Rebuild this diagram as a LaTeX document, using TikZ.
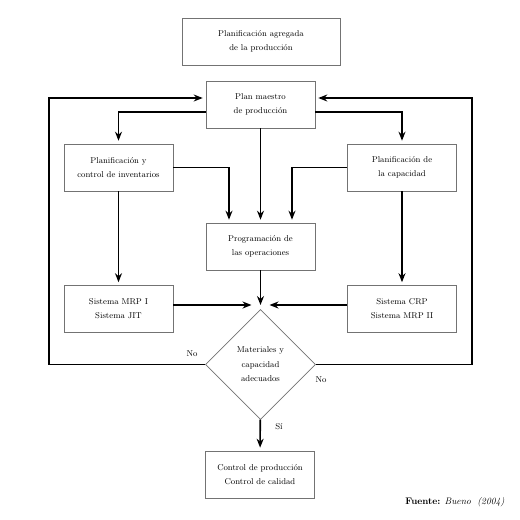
\documentclass[tikz,border=0pt]{standalone}
\usepackage{tikz}
\usetikzlibrary{arrows.meta,shapes.geometric}

\begin{document}
\begin{tikzpicture}[x=1pt,y=-1pt,
        caja/.style={draw=black!55,line width=0.6pt,minimum width=109pt,minimum height=47pt,
            align=center,inner sep=2pt,font=\fontsize{8.5}{14}\selectfont},
        rombo/.style={diamond,draw=black!55,line width=0.6pt,minimum width=110pt,minimum height=110pt,
            aspect=1,align=center,inner sep=0pt,font=\fontsize{8.5}{14.5}\selectfont},
        etiqueta/.style={font=\fontsize{8.5}{10}\selectfont},
        flecha/.style={line width=1.6pt,-{Stealth[length=9pt,width=7pt]},shorten >=3pt}]
        \useasboundingbox (0,0) rectangle (520,520);
        \node[caja,minimum width=158pt] (agregada) at (261,41.5) {Planificación agregada\\de la producción};
        \node[caja] (maestro) at (260.5,104.5) {Plan maestro\\de producción};
        \node[caja] (inventarios) at (118.5,167.5) {Planificación y\\control de inventarios};
        \node[caja] (capacidad) at (402,167.5) {Planificación de\\la capacidad};
        \node[caja] (operaciones) at (260.5,246.5) {Programación de\\las operaciones};
        \node[caja] (mrp) at (118.5,309) {Sistema MRP I\\Sistema JIT};
        \node[caja] (crp) at (402,309) {Sistema CRP\\Sistema MRP II};
        \node[rombo] (decision) at (260.5,364.5) {Materiales y\\capacidad\\adecuados};
        \node[caja] (control) at (260,474.5) {Control de producción\\Control de calidad};
        \coordinate (cruce) at (260.5,305);
        \coordinate (izq) at (49,98);
        \coordinate (der) at (472,98);
        % lazos de retorno
        \draw[flecha] (decision.west) -| (izq) -- (izq -| maestro.west);
        \draw[flecha] (decision.east) -| (der) -- (der -| maestro.east);
        % desde el plan maestro
        \draw[flecha] ([yshift=-7.5pt]maestro.west) -| (inventarios.north);
        \draw[flecha] ([yshift=-7.5pt]maestro.east) -| (capacidad.north);
        \draw[flecha] (maestro) -- (operaciones);
        \draw[flecha] (inventarios.east) -| ([xshift=-31.5pt]operaciones.north);
        \draw[flecha] (capacidad.west) -| ([xshift=31.5pt]operaciones.north);
        \draw[flecha] (inventarios) -- (mrp);
        \draw[flecha] (capacidad) -- (crp);
        % hacia la decision
        \draw[flecha,shorten >=0pt] (operaciones) -- (cruce);
        \draw[flecha,shorten >=0pt] (mrp.east |- cruce) -- ([xshift=-9pt]cruce);
        \draw[flecha,shorten >=0pt] (crp.west |- cruce) -- ([xshift=9pt]cruce);
        \draw[flecha] (decision) -- (control);
        \node[etiqueta] (noizq) at (192,354) {No};
        \node[etiqueta] (noder) at (321,380) {No};
        \node[etiqueta] (si) at (279,427) {Sí};
        \node[anchor=east,font=\fontsize{9.5}{11}\selectfont] (fuente) at (508,502)
            {\textbf{Fuente:} \textit{Bueno}\ \ \textit{(2004)}};
    \end{tikzpicture}
\end{document}
